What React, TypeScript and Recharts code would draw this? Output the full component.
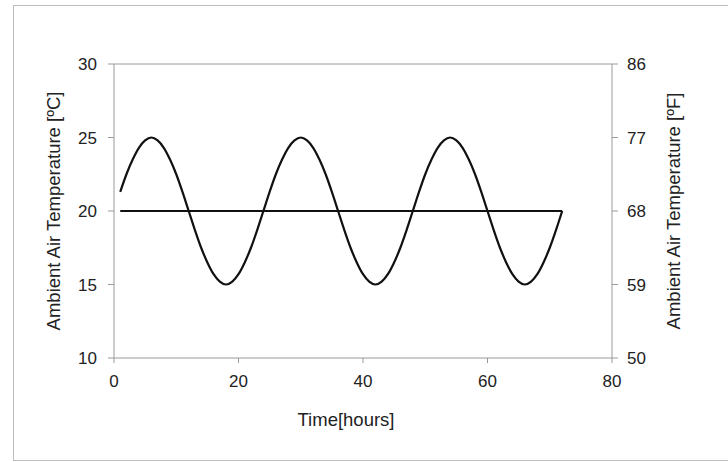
import { LineChart, Line, XAxis, YAxis, ReferenceLine } from 'recharts';

const hours = [
  1, 2, 3, 4, 5, 6, 7, 8, 9, 10, 11, 12, 13, 14, 15, 16, 17, 18, 19, 20, 21, 22, 23, 24,
  25, 26, 27, 28, 29, 30, 31, 32, 33, 34, 35, 36, 37, 38, 39, 40, 41, 42, 43, 44, 45, 46, 47, 48,
  49, 50, 51, 52, 53, 54, 55, 56, 57, 58, 59, 60, 61, 62, 63, 64, 65, 66, 67, 68, 69, 70, 71, 72,
];

const ambientC = [
  21.3, 22.5, 23.5, 24.3, 24.8, 25.0, 24.8, 24.3, 23.5, 22.5, 21.3, 20.0,
  18.7, 17.5, 16.5, 15.7, 15.2, 15.0, 15.2, 15.7, 16.5, 17.5, 18.7, 20.0,
  21.3, 22.5, 23.5, 24.3, 24.8, 25.0, 24.8, 24.3, 23.5, 22.5, 21.3, 20.0,
  18.7, 17.5, 16.5, 15.7, 15.2, 15.0, 15.2, 15.7, 16.5, 17.5, 18.7, 20.0,
  21.3, 22.5, 23.5, 24.3, 24.8, 25.0, 24.8, 24.3, 23.5, 22.5, 21.3, 20.0,
  18.7, 17.5, 16.5, 15.7, 15.2, 15.0, 15.2, 15.7, 16.5, 17.5, 18.7, 20.0,
];

const meanHours = [1, 72];
const meanC = [20, 20];

const xTicks = [0, 20, 40, 60, 80];
const cTicks = [10, 15, 20, 25, 30];
const fTicks = [50, 59, 68, 77, 86];

const data = hours.map((t, i) => ({ t, c: ambientC[i] }));
const meanData = meanHours.map((t, i) => ({ t, c: meanC[i] }));

const axisColor = '#9a9a9a';
const font = '"Liberation Sans", Arial, sans-serif';
const tickStyle = { fontSize: 17, fill: '#222', fontFamily: font };
const labelStyle = { fontSize: 18.5, fill: '#222', fontFamily: font, textAnchor: 'middle' as const };

export default function App() {
  return (
    <div style={{ position: 'absolute', left: 0, top: 0, width: 728, height: 462, background: '#fff' }}>
      <div
        style={{
          position: 'absolute',
          left: 13,
          top: 5,
          width: 720,
          height: 454,
          borderTop: '1px solid #bdbdbd',
          borderLeft: '1px solid #bdbdbd',
          borderBottom: '1px solid #bdbdbd',
        }}
      />
      <div style={{ position: 'absolute', left: 0, top: 0 }}>
        <LineChart width={728} height={462} data={data} margin={{ top: 64, right: 36, left: 40, bottom: 24 }}>
          <XAxis
            dataKey="t"
            type="number"
            domain={[0, 80]}
            ticks={xTicks}
            stroke={axisColor}
            tick={tickStyle}
            tickSize={5}
            tickMargin={12}
            height={80}
            label={{ value: 'Time[hours]', position: 'insideBottom', offset: 12, dx: -17, style: labelStyle }}
          />
          <YAxis
            yAxisId="c"
            domain={[10, 30]}
            ticks={cTicks}
            stroke={axisColor}
            tick={tickStyle}
            tickSize={6}
            tickMargin={11}
            width={74}
            label={{ value: 'Ambient Air Temperature [ºC]', angle: -90, position: 'insideLeft', offset: 13, style: labelStyle }}
          />
          <YAxis
            yAxisId="f"
            orientation="right"
            domain={[50, 86]}
            ticks={fTicks}
            stroke={axisColor}
            tick={tickStyle}
            tickSize={6}
            tickMargin={9}
            width={80}
            allowDataOverflow
            label={{ value: 'Ambient Air Temperature [ºF]', angle: -90, position: 'insideRight', offset: 19, style: labelStyle }}
          />
          <ReferenceLine yAxisId="c" y={30} stroke={axisColor} />
          <Line
            yAxisId="f"
            dataKey="f"
            stroke="none"
            dot={false}
            activeDot={false}
            legendType="none"
            isAnimationActive={false}
          />
          <Line
            yAxisId="c"
            dataKey="c"
            type="monotone"
            stroke="#111"
            strokeWidth={2.2}
            dot={false}
            isAnimationActive={false}
          />
          <Line
            yAxisId="c"
            data={meanData}
            dataKey="c"
            type="linear"
            stroke="#111"
            strokeWidth={2.2}
            dot={false}
            isAnimationActive={false}
          />
        </LineChart>
      </div>
    </div>
  );
}
